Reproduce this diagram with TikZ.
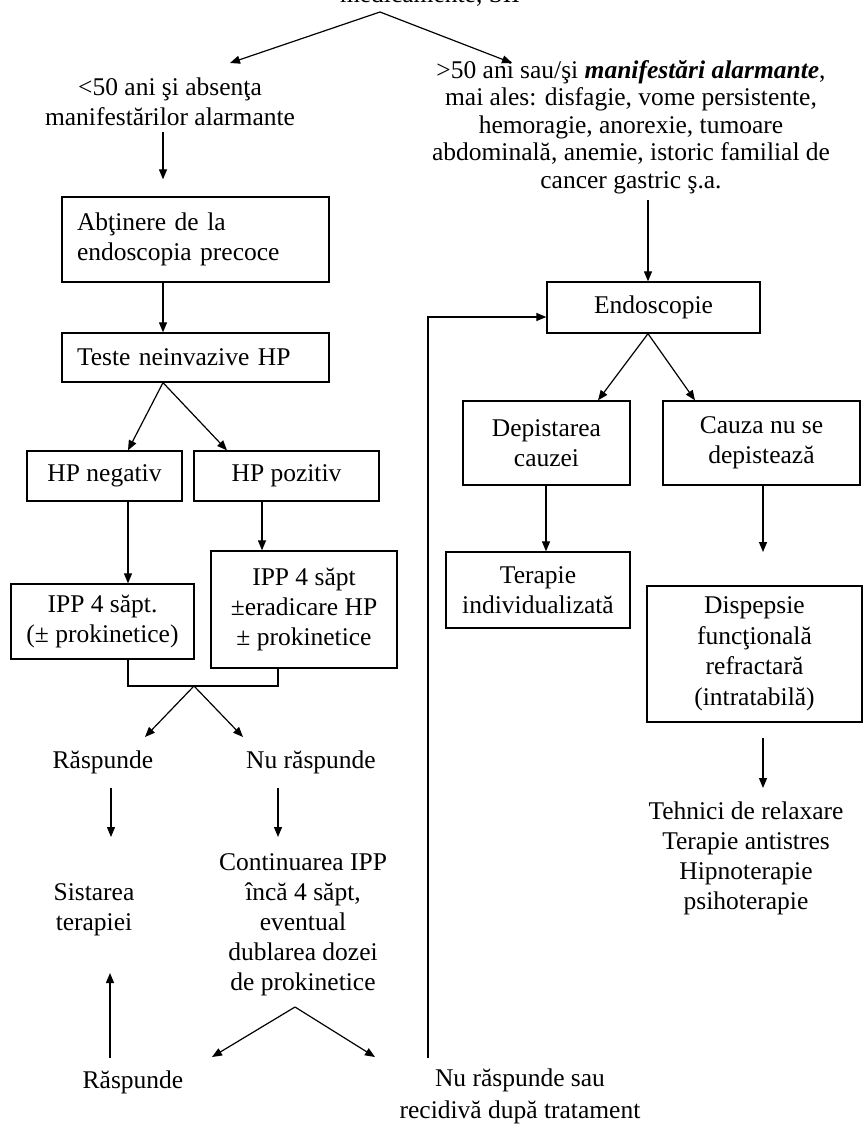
\documentclass[tikz,border=0pt]{standalone}
\usepackage{fontspec}
\setmainfont{Liberation Serif}
\usetikzlibrary{arrows.meta}
\begin{document}
\begin{tikzpicture}[x=1pt,y=-1pt,
  every node/.style={inner sep=0pt, font=\fontsize{25.5}{30}\selectfont},
  box/.style={draw, line width=1.3pt, align=center},
  lbox/.style={draw, line width=1.3pt, align=left},
  txt/.style={align=center},
  arr/.style={line width=1.2pt, -{Triangle[length=10pt,width=8pt]}},
  ln/.style={line width=1.2pt}]
\useasboundingbox (0,0) rectangle (863,1124);

% columns
\coordinate (c128) at (128,0);
\coordinate (c163) at (163,0);
\coordinate (c227) at (227,0);
\coordinate (c262) at (262,0);
\coordinate (c278) at (278,0);
\coordinate (c546) at (546,0);
\coordinate (c598) at (598,0);
\coordinate (c648) at (648,0);
\coordinate (c695) at (695,0);
\coordinate (c763) at (763,0);

% top
\node[anchor=base] (top) at (430,3) {medicamente, SII};
\coordinate (apex) at (380,12);
\coordinate (tipL) at (230,63);
\coordinate (tipR) at (512,63);
\draw[arr] (apex) -- (tipL);
\draw[arr] (apex) -- (tipR);

% left column
\node[txt] (lt) at (170,102) {<50 ani şi absenţa\\manifestărilor alarmante};
\node[lbox, minimum width=267pt, minimum height=85pt, text width=237pt] (abt) at (195.5,239.5) {Abţinere de la\\endoscopia precoce};
\node[lbox, minimum width=267pt, minimum height=49pt, text width=237pt] (teste) at (195.5,357.5) {Teste neinvazive HP};
\node[box, minimum width=155pt, minimum height=50pt] (hn) at (104.5,476) {HP negativ};
\node[box, minimum width=185pt, minimum height=50pt] (hpz) at (286.5,476) {HP pozitiv};
\node[box, minimum width=183pt, minimum height=75pt] (i1) at (102.5,621.5) {IPP 4 săpt.\\(± prokinetice)};
\node[box, minimum width=186pt, minimum height=117pt] (i2) at (304,609.5) {IPP 4 săpt\\±eradicare HP\\± prokinetice};

\draw[arr, shorten <=6pt, shorten >=17pt] (lt.south -| c163) -- (abt.north -| c163);
\draw[arr] (abt.south -| c163) -- (teste.north -| c163);
\draw[arr] (teste.south -| c163) -- (hn.north -| c128);
\draw[arr] (teste.south -| c163) -- (hpz.north -| c227);
\draw[arr] (hn.south -| c128) -- (i1.north -| c128);
\draw[arr] (hpz.south -| c262) -- (i2.north -| c262);

\coordinate (brk) at (194,686);
\draw[ln] (i1.south -| c128) |- (brk) -| (i2.south -| c278);
\coordinate (tA) at (145,737);
\coordinate (tB) at (243,737);
\draw[arr] (brk) -- (tA);
\draw[arr] (brk) -- (tB);

\node (r1) at (103,762) {Răspunde};
\node (nr1) at (311,762) {Nu răspunde};
\coordinate (a1s) at (111,788);
\coordinate (a1e) at (111,837);
\draw[arr] (a1s) -- (a1e);
\coordinate (a2s) at (278,788);
\coordinate (a2e) at (278,837);
\draw[arr] (a2s) -- (a2e);

\node[txt] (sist) at (94,910) {Sistarea\\terapiei};
\node[txt] (cont) at (303,925) {Continuarea IPP\\încă 4 săpt,\\eventual\\dublarea dozei\\de prokinetice};

\coordinate (vap) at (295,1007);
\coordinate (vL) at (212,1057);
\coordinate (vR) at (375,1057);
\draw[arr] (vap) -- (vL);
\draw[arr] (vap) -- (vR);

\coordinate (u1s) at (110,1058);
\coordinate (u1e) at (110,973);
\draw[arr] (u1s) -- (u1e);

\node (r2) at (133,1082) {Răspunde};
\node[txt, font=\fontsize{25.5}{32}\selectfont] (nr2) at (520,1096) {Nu răspunde sau\\recidivă după tratament};

% right column
\node[txt, font=\fontsize{25.5}{27.5}\selectfont] (rt) at (631,127)
  {>50 ani sau/şi \textbf{\textit{manifestări alarmante}},\\
   mai ales: disfagie, vome persistente,\\
   hemoragie, anorexie, tumoare\\
   abdominală, anemie, istoric familial de\\
   cancer gastric ş.a.};
\node[box, minimum width=213pt, minimum height=51pt] (endo) at (653.5,307.5) {Endoscopie};
\node[box, minimum width=167pt, minimum height=84pt] (dep) at (546.5,443) {Depistarea\\cauzei};
\node[box, minimum width=197pt, minimum height=84pt] (cauza) at (761.5,443) {Cauza nu se\\depistează};
\node[box, minimum width=184pt, minimum height=76pt] (ter) at (538,590) {Terapie\\individualizată};
\node[box, minimum width=215pt, minimum height=136pt, font=\fontsize{25.5}{30.5}\selectfont] (disp) at (754.5,654) {Dispepsie\\funcţională\\refractară\\(intratabilă)};
\node[txt] (teh) at (746,858) {Tehnici de relaxare\\Terapie antistres\\Hipnoterapie\\psihoterapie};

\coordinate (gs) at (648,200);
\draw[arr] (gs) -- (endo.north -| c648);
\draw[arr] (endo.south -| c648) -- (dep.north -| c598);
\draw[arr] (endo.south -| c648) -- (cauza.north -| c695);
\draw[arr] (dep.south -| c546) -- (ter.north -| c546);
\coordinate (ce) at (763,552);
\draw[arr] (cauza.south -| c763) -- (ce);
\coordinate (ds) at (763,738);
\coordinate (de) at (763,788);
\draw[arr] (ds) -- (de);

% loop back
\coordinate (lb) at (428,1058);
\coordinate (lc) at (428,317);
\draw[arr] (lb) -- (lc) -- (endo.west |- lc);
\end{tikzpicture}
\end{document}
